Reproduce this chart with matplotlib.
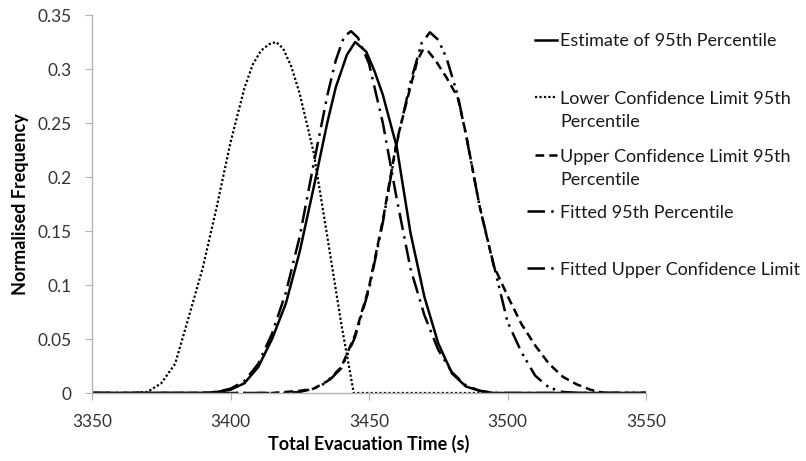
import matplotlib
matplotlib.use("Agg")
import matplotlib.pyplot as plt
from matplotlib.lines import Line2D
from matplotlib.ticker import FuncFormatter

plt.rcParams['font.family'] = ['Lato', 'DejaVu Sans']

# total evacuation time (s) and normalised frequency
est_x = [3350, 3390, 3395, 3400, 3405, 3410, 3415, 3420, 3425, 3430, 3435, 3438, 3442, 3445,
         3449, 3452, 3455, 3460, 3465, 3470, 3475, 3480, 3485, 3490, 3495, 3550]
est_y = [0, 0, 0.001, 0.003, 0.009, 0.024, 0.050, 0.083, 0.131, 0.190, 0.251, 0.283, 0.313, 0.325,
         0.316, 0.298, 0.276, 0.228, 0.148, 0.089, 0.046, 0.018, 0.006, 0.002, 0, 0]

lcl_x = [3350, 3365, 3370, 3375, 3380, 3385, 3390, 3395, 3400, 3405, 3408, 3411, 3414, 3416.5,
         3419, 3422, 3425, 3430, 3435, 3440, 3444.5, 3550]
lcl_y = [0, 0, 0.001, 0.009, 0.027, 0.071, 0.116, 0.172, 0.232, 0.282, 0.304, 0.317, 0.323, 0.325,
         0.319, 0.302, 0.277, 0.223, 0.144, 0.064, 0, 0]

ucl_x = [3350, 3415, 3420, 3425, 3430, 3435, 3440, 3445, 3450, 3455, 3460, 3465, 3467.5, 3469.5,
         3471.5, 3474, 3478, 3482, 3485, 3490, 3495, 3500, 3505, 3510, 3515, 3520, 3525, 3530, 3535, 3550]
ucl_y = [0, 0, 0.001, 0.002, 0.004, 0.011, 0.024, 0.054, 0.098, 0.160, 0.233, 0.284, 0.308, 0.318,
         0.316, 0.308, 0.292, 0.274, 0.240, 0.172, 0.118, 0.090, 0.064, 0.044, 0.027, 0.015, 0.008, 0.003, 0, 0]

fit_x = [3350, 3390, 3395, 3400, 3405, 3410, 3415, 3420, 3425, 3430, 3435, 3438, 3441, 3443.5,
         3446, 3450, 3455, 3460, 3465, 3470, 3475, 3480, 3485, 3490, 3495, 3550]
fit_y = [0, 0, 0.001, 0.004, 0.011, 0.027, 0.055, 0.093, 0.145, 0.212, 0.276, 0.308, 0.330, 0.335,
         0.329, 0.305, 0.250, 0.180, 0.115, 0.072, 0.040, 0.019, 0.007, 0.002, 0, 0]

fucl_x = [3350, 3420, 3425, 3430, 3435, 3440, 3445, 3450, 3455, 3460, 3465, 3469, 3472,
          3475, 3478, 3482, 3485, 3490, 3495, 3500, 3505, 3510, 3515, 3520, 3525, 3550]
fucl_y = [0, 0, 0.001, 0.004, 0.010, 0.023, 0.052, 0.096, 0.158, 0.231, 0.288, 0.324, 0.334,
          0.327, 0.310, 0.276, 0.239, 0.172, 0.119, 0.066, 0.038, 0.016, 0.005, 0.001, 0, 0]

labels = [['Estimate of 95th Percentile'],
          ['Lower Confidence Limit 95th', 'Percentile'],
          ['Upper Confidence Limit 95th', 'Percentile'],
          ['Fitted 95th Percentile'],
          ['Fitted Upper Confidence Limit']]

styles = ['-', (0, (1, 1)), (0, (3.5, 2)), (0, (7, 2.5, 1, 2.5)), (0, (7, 2.5, 1, 2, 1, 2.5))]
widths = [1.8, 1.6, 1.8, 1.8, 1.8]

fig = plt.figure(figsize=(8.06, 4.61), dpi=100)
ax = fig.add_axes([92 / 806, 68 / 461, 554 / 806, 378 / 461])

series = [(est_x, est_y), (lcl_x, lcl_y), (ucl_x, ucl_y), (fit_x, fit_y), (fucl_x, fucl_y)]
for (xs, ys), ls, lw in zip(series, styles, widths):
    ax.plot(xs, ys, color='black', lw=lw, linestyle=ls, solid_joinstyle='round')

ax.set_xlim(3350, 3550)
ax.set_ylim(0, 0.35)
ax.set_xticks([3350, 3400, 3450, 3500, 3550])
ax.set_yticks([0, 0.05, 0.1, 0.15, 0.2, 0.25, 0.3, 0.35])
ax.yaxis.set_major_formatter(FuncFormatter(lambda v, p: '%g' % v))

for s in ['top', 'right']:
    ax.spines[s].set_visible(False)
for s in ['left', 'bottom']:
    ax.spines[s].set_color('#b3b3b3')
    ax.spines[s].set_linewidth(1)
ax.tick_params(axis='both', direction='out', length=5, color='#b3b3b3', labelsize=12.4,
               labelcolor='#333333')
ax.tick_params(axis='x', pad=10)
ax.tick_params(axis='y', pad=10)

ax.set_xlabel('Total Evacuation Time (s)', fontsize=13, fontweight='bold', labelpad=4)
ax.set_ylabel('Normalised Frequency', fontsize=13, fontweight='bold', labelpad=6)

# legend drawn by hand so the key sits on the first line of wrapped labels
W, H = 806.0, 461.0
entry_y = [40, 97, 155, 211, 268]
handle_x = [(535, 557), (535, 557), (535, 557), (527, 554), (527, 557)]
for lab, ls, lw, y, (x0, x1) in zip(labels, styles, widths, entry_y, handle_x):
    fig.add_artist(Line2D([x0 / W, x1 / W], [1 - y / H, 1 - y / H], transform=fig.transFigure,
                          color='black', lw=lw, linestyle=ls))
    for i, line in enumerate(lab):
        fig.text(560 / W, 1 - (y + 23 * i) / H, line, fontsize=13, va='center_baseline',
                 ha='left', color='#1a1a1a')

fig.savefig('out.png', dpi=100)
